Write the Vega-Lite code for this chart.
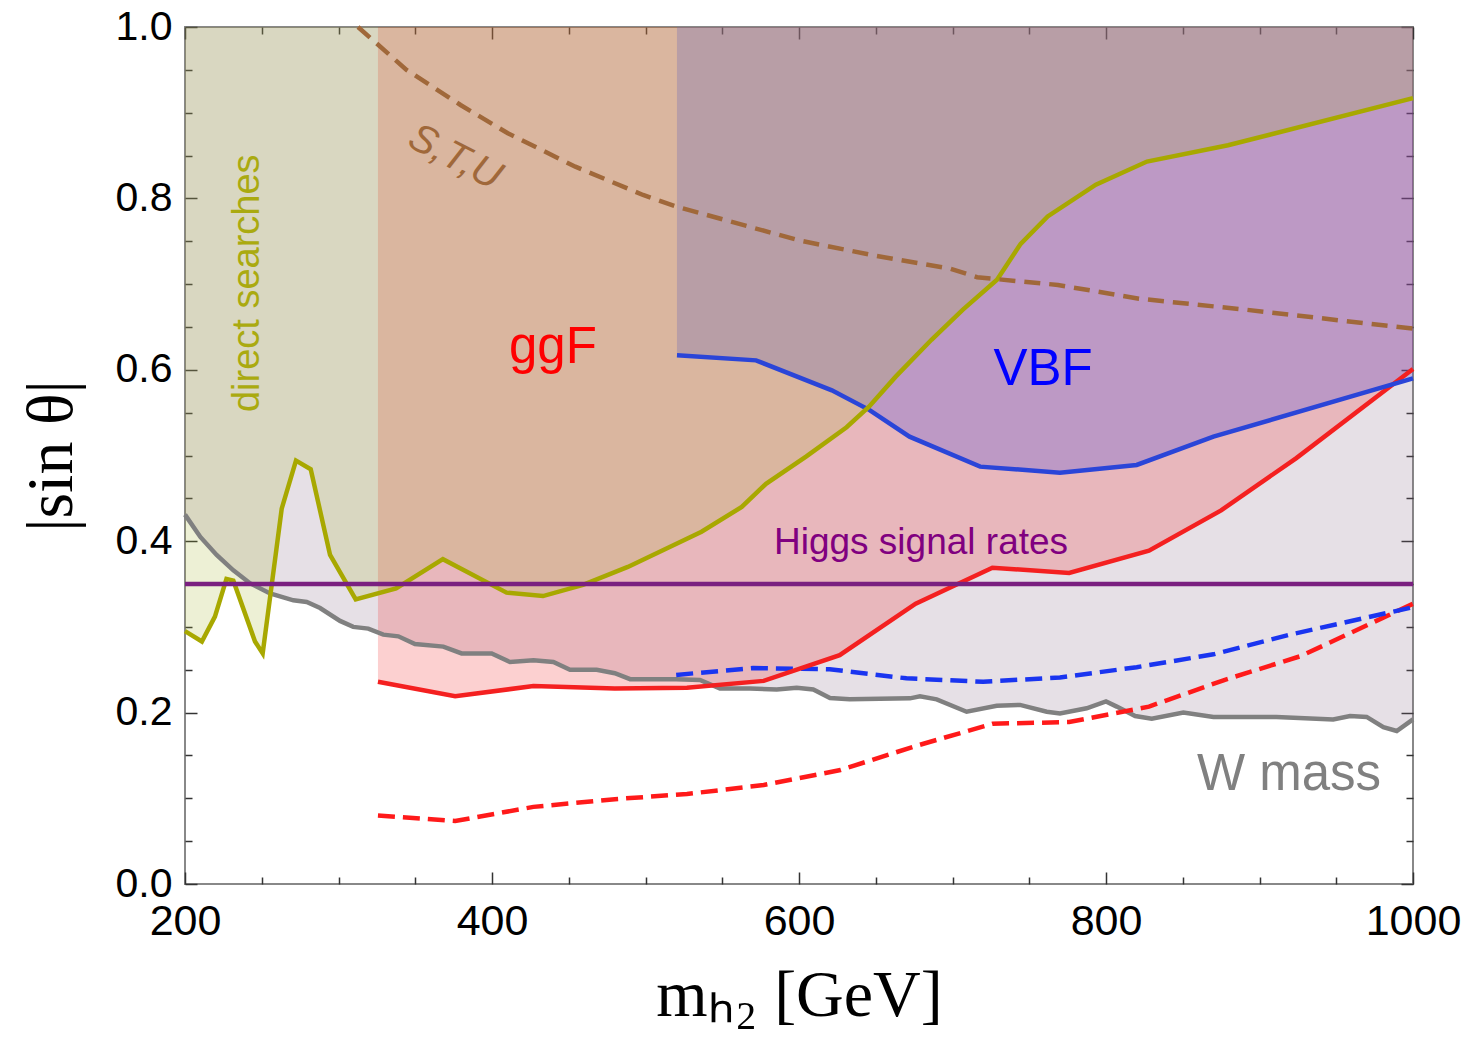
{
  "$schema": "https://vega.github.io/schema/vega-lite/v6.json",
  "width": 1228,
  "height": 857,
  "autosize": {"type": "none"},
  "padding": {"left": 185, "top": 27, "right": 52, "bottom": 159},
  "background": "white",
  "config": {
    "view": {"stroke": "#888888", "strokeWidth": 2},
    "axis": {"domain": false, "grid": false, "tickColor": "#333333", "tickWidth": 1.5, "labelFont": "Liberation Sans", "labelFontSize": 41, "labelColor": "#000000", "labelFlush": false, "labelOverlap": false, "titleFont": "Liberation Serif", "titleFontSize": 66, "titleFontWeight": "normal", "titleColor": "#000000"}
  },
  "datasets": {
    "W": [
      {"m": 200, "s": 0.431}, {"m": 210, "s": 0.405}, {"m": 220.6, "s": 0.384}, {"m": 231.5, "s": 0.366}, {"m": 242.3, "s": 0.351},
      {"m": 255.4, "s": 0.339}, {"m": 270.6, "s": 0.331}, {"m": 279.3, "s": 0.329}, {"m": 288, "s": 0.322}, {"m": 301, "s": 0.307},
      {"m": 309.6, "s": 0.3}, {"m": 319.4, "s": 0.298}, {"m": 329.2, "s": 0.291}, {"m": 339, "s": 0.289}, {"m": 349.8, "s": 0.28},
      {"m": 368.3, "s": 0.277}, {"m": 380.2, "s": 0.269}, {"m": 399.8, "s": 0.269}, {"m": 411.7, "s": 0.259}, {"m": 427, "s": 0.261},
      {"m": 440, "s": 0.259}, {"m": 450.8, "s": 0.25}, {"m": 468.2, "s": 0.25}, {"m": 480, "s": 0.246}, {"m": 490, "s": 0.239},
      {"m": 520, "s": 0.239}, {"m": 535.5, "s": 0.238}, {"m": 548.5, "s": 0.228}, {"m": 568, "s": 0.228}, {"m": 585.5, "s": 0.227},
      {"m": 598.5, "s": 0.229}, {"m": 609.3, "s": 0.227}, {"m": 620.2, "s": 0.217}, {"m": 633, "s": 0.2155}, {"m": 672.3, "s": 0.2166},
      {"m": 678.8, "s": 0.219}, {"m": 689.7, "s": 0.2155}, {"m": 709.2, "s": 0.201}, {"m": 728.8, "s": 0.208}, {"m": 744, "s": 0.209},
      {"m": 761.4, "s": 0.201}, {"m": 770, "s": 0.199}, {"m": 787.4, "s": 0.205}, {"m": 800, "s": 0.213}, {"m": 807, "s": 0.207},
      {"m": 819, "s": 0.196}, {"m": 829.8, "s": 0.193}, {"m": 850.4, "s": 0.2}, {"m": 870, "s": 0.195}, {"m": 911, "s": 0.195},
      {"m": 948, "s": 0.192}, {"m": 959, "s": 0.196}, {"m": 969.8, "s": 0.195}, {"m": 980.7, "s": 0.183}, {"m": 989.4, "s": 0.1785},
      {"m": 1000, "s": 0.192}
    ],
    "direct": [
      {"m": 200, "s": 0.295}, {"m": 211, "s": 0.283}, {"m": 219.5, "s": 0.312}, {"m": 227, "s": 0.356}, {"m": 231.5, "s": 0.354},
      {"m": 245.6, "s": 0.283}, {"m": 250.6, "s": 0.269}, {"m": 259.5, "s": 0.39}, {"m": 263, "s": 0.438}, {"m": 272.3, "s": 0.494},
      {"m": 281.9, "s": 0.484}, {"m": 294.5, "s": 0.384}, {"m": 311.2, "s": 0.332}, {"m": 337.5, "s": 0.345}, {"m": 368, "s": 0.379},
      {"m": 409.5, "s": 0.34}, {"m": 433.2, "s": 0.336}, {"m": 459.3, "s": 0.349}, {"m": 488.5, "s": 0.37}, {"m": 536.5, "s": 0.411},
      {"m": 562.7, "s": 0.44}, {"m": 578.5, "s": 0.467}, {"m": 604.8, "s": 0.499}, {"m": 631, "s": 0.533}, {"m": 645.6, "s": 0.557},
      {"m": 663, "s": 0.592}, {"m": 686.3, "s": 0.635}, {"m": 706.6, "s": 0.67}, {"m": 729, "s": 0.705}, {"m": 744.4, "s": 0.747},
      {"m": 762, "s": 0.779}, {"m": 793.4, "s": 0.816}, {"m": 826.7, "s": 0.843}, {"m": 879.5, "s": 0.862}, {"m": 1000, "s": 0.917}
    ],
    "ggF": [
      {"m": 325.7, "s": 0.236}, {"m": 376, "s": 0.219}, {"m": 427, "s": 0.231}, {"m": 480, "s": 0.228}, {"m": 527, "s": 0.229},
      {"m": 577, "s": 0.237}, {"m": 626.5, "s": 0.267}, {"m": 676, "s": 0.327}, {"m": 726, "s": 0.369}, {"m": 776, "s": 0.363},
      {"m": 828, "s": 0.389}, {"m": 875, "s": 0.436}, {"m": 924, "s": 0.497}, {"m": 1000, "s": 0.601}
    ],
    "ggFexp": [
      {"m": 325.7, "s": 0.08}, {"m": 376, "s": 0.0735}, {"m": 427, "s": 0.09}, {"m": 480, "s": 0.099}, {"m": 527, "s": 0.105},
      {"m": 577, "s": 0.1155}, {"m": 627, "s": 0.133}, {"m": 676, "s": 0.161}, {"m": 726, "s": 0.187}, {"m": 776, "s": 0.189},
      {"m": 828, "s": 0.207}, {"m": 877, "s": 0.238}, {"m": 927, "s": 0.266}, {"m": 1000, "s": 0.327}
    ],
    "VBF": [
      {"m": 520.5, "s": 0.617}, {"m": 572, "s": 0.611}, {"m": 621.4, "s": 0.576}, {"m": 646, "s": 0.553}, {"m": 672, "s": 0.522},
      {"m": 718, "s": 0.487}, {"m": 770, "s": 0.48}, {"m": 820, "s": 0.489}, {"m": 870, "s": 0.522}, {"m": 1000, "s": 0.59}
    ],
    "VBFexp": [
      {"m": 520, "s": 0.244}, {"m": 570, "s": 0.252}, {"m": 620, "s": 0.2505}, {"m": 670, "s": 0.24}, {"m": 720, "s": 0.236},
      {"m": 770, "s": 0.241}, {"m": 820, "s": 0.253}, {"m": 870, "s": 0.268}, {"m": 920, "s": 0.291}, {"m": 970, "s": 0.311},
      {"m": 1000, "s": 0.323}
    ],
    "STU": [
      {"m": 312.7, "s": 1.0}, {"m": 344.3, "s": 0.95}, {"m": 379.5, "s": 0.909}, {"m": 410.3, "s": 0.876}, {"m": 454.3, "s": 0.837},
      {"m": 498.4, "s": 0.804}, {"m": 521, "s": 0.79}, {"m": 600, "s": 0.751}, {"m": 650, "s": 0.733}, {"m": 698.6, "s": 0.718},
      {"m": 716, "s": 0.708}, {"m": 768.7, "s": 0.699}, {"m": 821.5, "s": 0.683}, {"m": 891.7, "s": 0.67}, {"m": 1000, "s": 0.648}
    ],
    "higgs": [{"m": 200, "s": 0.35}, {"m": 1000, "s": 0.35}],
    "labels": [
      {"m": 241, "s": 0.701, "text": "direct searches", "group": "direct"},
      {"m": 439.7, "s": 0.625, "text": "ggF", "group": "ggF"},
      {"m": 759, "s": 0.6, "text": "VBF", "group": "VBF"},
      {"m": 679.5, "s": 0.398, "text": "Higgs signal rates", "group": "higgs"},
      {"m": 919.2, "s": 0.127, "text": "W mass", "group": "W"},
      {"m": 375.9, "s": 0.848, "text": "S,T,U", "group": "STU"}
    ]
  },
  "resolve": {"axis": {"x": "independent", "y": "independent"}},
  "encoding": {
    "x": {"field": "m", "type": "quantitative", "scale": {"domain": [200, 1000], "nice": false, "zero": false}, "axis": null},
    "y": {"field": "s", "type": "quantitative", "scale": {"domain": [0, 1], "nice": false, "zero": false}, "axis": null}
  },
  "layer": [
    {"data": {"name": "W"}, "mark": {"type": "area", "color": "#826482", "opacity": 0.2}, "encoding": {"y2": {"datum": 1}}},
    {"data": {"name": "ggF"}, "mark": {"type": "area", "color": "#f01414", "opacity": 0.2}, "encoding": {"y2": {"datum": 1}}},
    {"data": {"name": "VBF"}, "mark": {"type": "area", "color": "#5955db", "opacity": 0.3}, "encoding": {"y2": {"datum": 1}}},
    {"data": {"name": "direct"}, "mark": {"type": "area", "color": "#a5b42d", "opacity": 0.2}, "encoding": {"y2": {"datum": 1}}},
    {"data": {"name": "W"}, "mark": {"type": "line", "color": "#808080", "strokeWidth": 4.5}, "encoding": {}},
    {"data": {"name": "ggFexp"}, "mark": {"type": "line", "color": "#ff1a1a", "strokeWidth": 4.5, "strokeDash": [17, 8]}, "encoding": {}},
    {"data": {"name": "VBFexp"}, "mark": {"type": "line", "color": "#1a35f0", "strokeWidth": 4.5, "strokeDash": [17, 8]}, "encoding": {}},
    {"data": {"name": "ggF"}, "mark": {"type": "line", "color": "#f42020", "strokeWidth": 4.5}, "encoding": {}},
    {"data": {"name": "VBF"}, "mark": {"type": "line", "color": "#2a45d8", "strokeWidth": 4.5}, "encoding": {}},
    {"data": {"name": "direct"}, "mark": {"type": "line", "color": "#a8a800", "strokeWidth": 4.5}, "encoding": {}},
    {"data": {"name": "STU"}, "mark": {"type": "line", "color": "#a0683a", "strokeWidth": 4.5, "strokeDash": [16, 9]}, "encoding": {}},
    {"data": {"name": "higgs"}, "mark": {"type": "line", "color": "#7a2080", "strokeWidth": 4.5}, "encoding": {}},
    {"data": {"name": "labels"}, "transform": [{"filter": "datum.group === 'direct'"}], "mark": {"type": "text", "font": "Liberation Sans", "fontSize": 38, "color": "#aaaa10", "angle": 270, "align": "center", "baseline": "middle"}, "encoding": {"text": {"field": "text"}}},
    {"data": {"name": "labels"}, "transform": [{"filter": "datum.group === 'ggF'"}], "mark": {"type": "text", "font": "Liberation Sans", "fontSize": 51, "color": "#ff0000", "align": "center", "baseline": "middle"}, "encoding": {"text": {"field": "text"}}},
    {"data": {"name": "labels"}, "transform": [{"filter": "datum.group === 'VBF'"}], "mark": {"type": "text", "font": "Liberation Sans", "fontSize": 51, "color": "#0000ff", "align": "center", "baseline": "middle"}, "encoding": {"text": {"field": "text"}}},
    {"data": {"name": "labels"}, "transform": [{"filter": "datum.group === 'higgs'"}], "mark": {"type": "text", "font": "Liberation Sans", "fontSize": 37, "color": "#800080", "align": "center", "baseline": "middle"}, "encoding": {"text": {"field": "text"}}},
    {"data": {"name": "labels"}, "transform": [{"filter": "datum.group === 'W'"}], "mark": {"type": "text", "font": "Liberation Sans", "fontSize": 51, "color": "#808080", "align": "center", "baseline": "middle"}, "encoding": {"text": {"field": "text"}}},
    {"data": {"name": "labels"}, "transform": [{"filter": "datum.group === 'STU'"}], "mark": {"type": "text", "font": "Liberation Sans", "fontSize": 40, "fontStyle": "italic", "color": "#a0683a", "angle": 27, "align": "center", "baseline": "middle"}, "encoding": {"text": {"field": "text"}}},
    {
      "data": {"name": "higgs"},
      "mark": {"type": "point", "opacity": 0},
      "encoding": {
        "x": {"field": "m", "type": "quantitative", "scale": {"domain": [200, 1000], "nice": false, "zero": false},
          "axis": {"orient": "bottom", "values": [200, 400, 600, 800, 1000], "format": "d", "tickSize": -12, "labelPadding": 28, "labelFontSize": 43, "title": "mₕ₂ [GeV]", "titlePadding": 20}},
        "y": {"field": "s", "type": "quantitative", "scale": {"domain": [0, 1], "nice": false, "zero": false},
          "axis": {"orient": "left", "values": [0, 0.2, 0.4, 0.6, 0.8, 1.0], "format": ".1f", "tickSize": -12, "labelPadding": 25, "title": "|sin θ|", "titlePadding": 30}}
      }
    },
    {
      "data": {"name": "higgs"},
      "mark": {"type": "point", "opacity": 0},
      "encoding": {
        "x": {"field": "m", "type": "quantitative", "scale": {"domain": [200, 1000], "nice": false, "zero": false},
          "axis": {"orient": "bottom", "values": [250, 300, 350, 450, 500, 550, 650, 700, 750, 850, 900, 950], "tickSize": -7, "labels": false, "title": null}},
        "y": {"field": "s", "type": "quantitative", "scale": {"domain": [0, 1], "nice": false, "zero": false},
          "axis": {"orient": "left", "values": [0.05, 0.1, 0.15, 0.25, 0.3, 0.35, 0.45, 0.5, 0.55, 0.65, 0.7, 0.75, 0.85, 0.9, 0.95], "tickSize": -7, "labels": false, "title": null}}
      }
    },
    {
      "data": {"name": "higgs"},
      "mark": {"type": "point", "opacity": 0},
      "encoding": {
        "x": {"field": "m", "type": "quantitative", "scale": {"domain": [200, 1000], "nice": false, "zero": false},
          "axis": {"orient": "top", "values": [200, 400, 600, 800, 1000], "tickSize": -12, "labels": false, "title": null}},
        "y": {"field": "s", "type": "quantitative", "scale": {"domain": [0, 1], "nice": false, "zero": false},
          "axis": {"orient": "right", "values": [0, 0.2, 0.4, 0.6, 0.8, 1.0], "tickSize": -12, "labels": false, "title": null}}
      }
    },
    {
      "data": {"name": "higgs"},
      "mark": {"type": "point", "opacity": 0},
      "encoding": {
        "x": {"field": "m", "type": "quantitative", "scale": {"domain": [200, 1000], "nice": false, "zero": false},
          "axis": {"orient": "top", "values": [250, 300, 350, 450, 500, 550, 650, 700, 750, 850, 900, 950], "tickSize": -7, "labels": false, "title": null}},
        "y": {"field": "s", "type": "quantitative", "scale": {"domain": [0, 1], "nice": false, "zero": false},
          "axis": {"orient": "right", "values": [0.05, 0.1, 0.15, 0.25, 0.3, 0.35, 0.45, 0.5, 0.55, 0.65, 0.7, 0.75, 0.85, 0.9, 0.95], "tickSize": -7, "labels": false, "title": null}}
      }
    }
  ]
}
